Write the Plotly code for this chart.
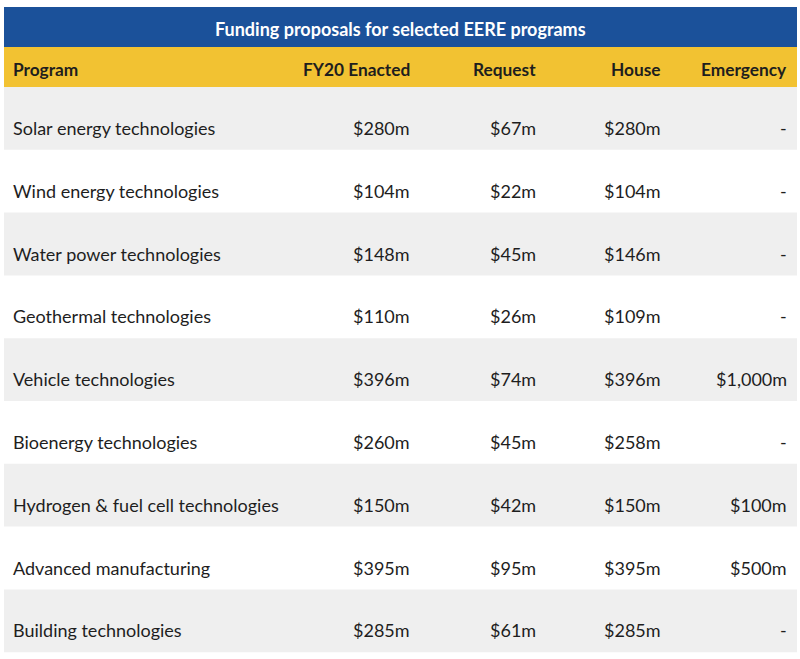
import plotly.graph_objects as go

title = "Funding proposals for selected EERE programs"
columns = ["Program", "FY20 Enacted", "Request", "House", "Emergency"]
programs = [
    "Solar energy technologies",
    "Wind energy technologies",
    "Water power technologies",
    "Geothermal technologies",
    "Vehicle technologies",
    "Bioenergy technologies",
    "Hydrogen & fuel cell technologies",
    "Advanced manufacturing",
    "Building technologies",
]
fy20_enacted = [280, 104, 148, 110, 396, 260, 150, 395, 285]
request = [67, 22, 45, 26, 74, 45, 42, 95, 61]
house = [280, 104, 146, 109, 396, 258, 150, 395, 285]
emergency = [None, None, None, None, 1000, None, 100, 500, None]

# layout / style constants
W, H = 800, 659
LEFT, RIGHT = 4, 797
TITLE_TOP, TITLE_H = 7, 40
HEAD_H = 40
ROW_H = 62.8
COL_X = [13, 410, 536, 661, 787]
BLUE = "#1B519A"
YELLOW = "#F2C232"
GRAY = "#EFEFEF"
TEXT = "#1E1E1E"
FONT = "Lato"


def fmt(v):
    return "-" if v is None else "${:,}m".format(v)


fig = go.Figure()
shapes = []
ann = []
common = dict(showarrow=False, yanchor="middle", borderpad=0, borderwidth=0)

# title bar
shapes.append(dict(type="rect", xref="x", yref="y", x0=LEFT, x1=RIGHT,
                   y0=TITLE_TOP, y1=TITLE_TOP + TITLE_H, fillcolor=BLUE, line_width=0, layer="below"))
ann.append(dict(x=(LEFT + RIGHT) / 2, y=TITLE_TOP + TITLE_H / 2 + 2, text="<b>%s</b>" % title,
                xanchor="center", font=dict(family=FONT, size=18, color="white"), **common))

# header
head_top = TITLE_TOP + TITLE_H
shapes.append(dict(type="rect", xref="x", yref="y", x0=LEFT, x1=RIGHT,
                   y0=head_top, y1=head_top + HEAD_H, fillcolor=YELLOW, line_width=0, layer="below"))
for j, c in enumerate(columns):
    ann.append(dict(x=COL_X[j], y=head_top + HEAD_H / 2 + 2, text="<b>%s</b>" % c,
                    xanchor="left" if j == 0 else "right",
                    font=dict(family=FONT, size=17.3, color=TEXT), **common))

# data rows
body_top = head_top + HEAD_H
cols_vals = [programs,
             [fmt(v) for v in fy20_enacted],
             [fmt(v) for v in request],
             [fmt(v) for v in house],
             [fmt(v) for v in emergency]]
for i in range(len(programs)):
    y0 = body_top + i * ROW_H
    if i % 2 == 0:
        shapes.append(dict(type="rect", xref="x", yref="y", x0=LEFT, x1=RIGHT,
                           y0=y0, y1=y0 + ROW_H, fillcolor=GRAY, line_width=0, layer="below"))
    for j in range(len(columns)):
        ann.append(dict(x=COL_X[j], y=y0 + 41, text=cols_vals[j][i],
                        xanchor="left" if j == 0 else "right",
                        font=dict(family=FONT, size=18, color=TEXT), **common))

fig.update_layout(
    width=W, height=H,
    margin=dict(l=0, r=0, t=0, b=0),
    paper_bgcolor="white", plot_bgcolor="white",
    xaxis=dict(range=[0, W], visible=False, fixedrange=True),
    yaxis=dict(range=[H, 0], visible=False, fixedrange=True),
    shapes=shapes, annotations=ann, showlegend=False,
)
fig.write_html("out.html",
               config={"displayModeBar": False, "staticPlot": True},
               post_script="document.body.style.margin='0';document.body.style.overflow='hidden';")
